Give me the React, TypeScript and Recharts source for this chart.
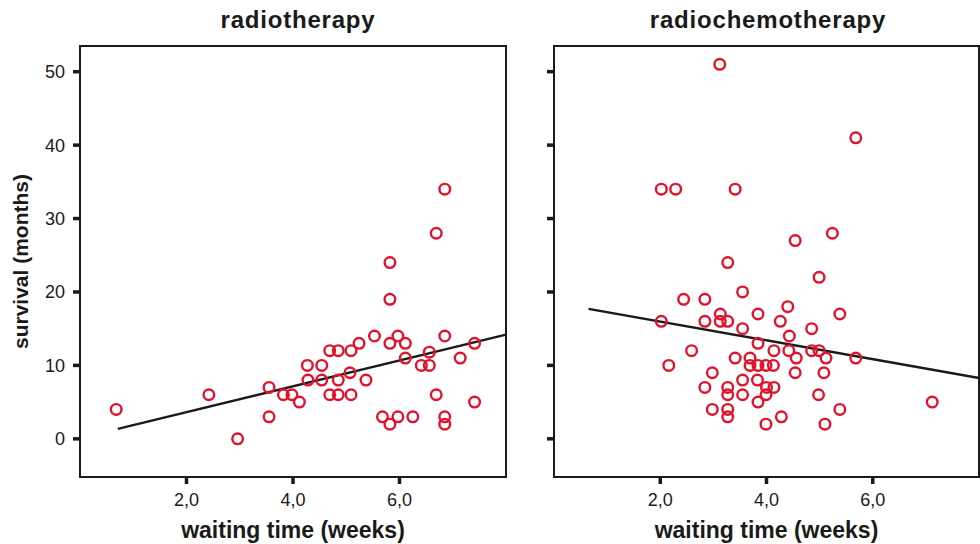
import React from "react";
import {
  ScatterChart,
  Scatter,
  XAxis,
  YAxis,
  ReferenceArea,
  ReferenceLine,
  Label,
} from "recharts";

// radiotherapy: waiting time (weeks) vs survival (months)
const radioX = [
  0.68, 2.42, 2.96, 3.55, 3.55, 3.82, 3.98, 4.12, 4.27, 4.28, 4.54, 4.54, 4.69,
  4.85, 4.69, 4.85, 4.85, 5.09, 5.07, 5.09, 5.24, 5.37, 5.53, 5.82, 5.82, 5.82,
  5.97, 6.11, 6.11, 5.68, 5.82, 5.97, 6.25, 6.41, 6.56, 6.56, 6.69, 6.69, 6.85,
  6.85, 6.85, 6.85, 7.14, 7.41, 7.41,
];
const radioY = [
  4, 6, 0, 7, 3, 6, 6, 5, 10, 8, 10, 8, 12, 12, 6, 6, 8, 12, 9, 6, 13, 8, 14,
  24, 19, 13, 14, 13, 11, 3, 2, 3, 3, 10, 10, 11.8, 6, 28, 34, 14, 3, 2, 11, 13,
  5,
];

// radiochemotherapy
const chemoX = [
  3.12, 5.68, 2.02, 2.29, 3.41, 5.24, 4.54, 3.27, 4.99, 3.55, 2.44, 2.84, 4.4,
  5.38, 3.84, 3.13, 3.13, 3.27, 2.02, 2.84, 4.26, 3.55, 4.85, 4.43, 3.84, 2.59,
  4.14, 4.42, 4.85, 4.99, 3.41, 3.69, 4.56, 5.12, 5.68, 2.16, 3.69, 3.84, 3.99,
  4.13, 2.98, 4.54, 5.08, 3.55, 3.83, 2.84, 3.27, 4.0, 4.14, 3.27, 3.55, 3.99,
  4.98, 3.84, 7.12, 2.98, 3.27, 5.38, 3.27, 4.28, 3.99, 5.1,
];
const chemoY = [
  51, 41, 34, 34, 34, 28, 27, 24, 22, 20, 19, 19, 18, 17, 17, 17, 16, 16, 16, 16,
  16, 15, 15, 14, 13, 12, 12, 12, 12, 12, 11, 11, 11, 11, 11, 10, 10, 10, 10, 10,
  9, 9, 9, 8, 8, 7, 7, 7, 7, 6, 6, 6, 6, 5, 5, 4, 4, 4, 3, 3, 2, 2,
];

// fitted lines (end points)
const radioFit = [
  { x: 0.71, y: 1.35 },
  { x: 8, y: 14.2 },
];
const chemoFit = [
  { x: 0.65, y: 17.7 },
  { x: 8, y: 8.28 },
];

const xTicks = [2, 4, 6];
const yTicks = [0, 10, 20, 30, 40, 50];
const xDomain = [0, 8];
const yDomain = [-5.2, 53.5];

const radioData = radioX.map((x, i) => ({ x, y: radioY[i] }));
const chemoData = chemoX.map((x, i) => ({ x, y: chemoY[i] }));

const FONT = "'Liberation Sans', Arial, Helvetica, sans-serif";
const INK = "#1a1a1a";
const RED = "#e2122c";

const fmtX = (v: number) => v.toFixed(1).replace(".", ",");

function Ring(props: any) {
  const { cx, cy } = props;
  if (cx == null || cy == null) return null;
  return <circle cx={cx} cy={cy} r={5.3} fill="none" stroke={RED} strokeWidth={2.4} />;
}

const tickStyle = { fontSize: 18, fill: INK, fontFamily: FONT };
const tickLine = { stroke: INK, strokeWidth: 3.5 };

function Panel({
  data,
  fit,
  width,
  yAxisWidth,
  marginRight,
  showYLabels,
}: {
  data: { x: number; y: number }[];
  fit: { x: number; y: number }[];
  width: number;
  yAxisWidth: number;
  marginRight: number;
  showYLabels: boolean;
}) {
  return (
    <ScatterChart
      width={width}
      height={544}
      margin={{ top: 46, right: marginRight, bottom: 0, left: 0 }}
    >
      <XAxis
        type="number"
        dataKey="x"
        domain={xDomain}
        ticks={xTicks}
        tickFormatter={fmtX}
        allowDataOverflow
        axisLine={false}
        tickLine={tickLine}
        tickSize={7}
        tickMargin={9}
        tick={tickStyle}
        height={67}
      >
        <Label
          value="waiting time (weeks)"
          position="insideBottom"
          offset={6}
          style={{ fontSize: 23, fontWeight: 700, fill: INK, fontFamily: FONT }}
        />
      </XAxis>
      <YAxis
        type="number"
        dataKey="y"
        domain={yDomain}
        ticks={yTicks}
        allowDataOverflow
        axisLine={false}
        tickLine={tickLine}
        tickSize={7}
        tickMargin={8}
        tick={tickStyle}
        tickFormatter={showYLabels ? (v: number) => String(v) : () => ""}
        width={yAxisWidth}
      >
        {showYLabels && (
          <Label
            value="survival (months)"
            angle={-90}
            position="insideLeft"
            offset={21}
            style={{
              fontSize: 21,
              fontWeight: 700,
              fill: INK,
              fontFamily: FONT,
              textAnchor: "middle",
            }}
          />
        )}
      </YAxis>
      <ReferenceArea
        x1={xDomain[0]}
        x2={xDomain[1]}
        y1={yDomain[0]}
        y2={yDomain[1]}
        fill="none"
        stroke={INK}
        strokeWidth={2}
        fillOpacity={0}
      />
      <ReferenceLine segment={fit} stroke={INK} strokeWidth={2.4} />
      <Scatter data={data} shape={<Ring />} isAnimationActive={false} />
    </ScatterChart>
  );
}

const titleStyle: React.CSSProperties = {
  position: "absolute",
  top: 8,
  width: 300,
  textAlign: "center",
  fontFamily: FONT,
  fontWeight: 700,
  fontSize: 24,
  lineHeight: "24px",
  letterSpacing: 0.8,
  color: INK,
};

export default function App() {
  return (
    <div
      style={{
        position: "absolute",
        left: 0,
        top: 0,
        width: 980,
        height: 544,
        background: "#fff",
        overflow: "hidden",
      }}
    >
      <div style={{ ...titleStyle, left: 148 }}>radiotherapy</div>
      <div style={{ ...titleStyle, left: 618 }}>radiochemotherapy</div>
      <div style={{ position: "absolute", left: 0, top: 0 }}>
        <Panel
          data={radioData}
          fit={radioFit}
          width={520}
          yAxisWidth={80}
          marginRight={14}
          showYLabels
        />
      </div>
      <div style={{ position: "absolute", left: 520, top: 0 }}>
        <Panel
          data={chemoData}
          fit={chemoFit}
          width={460}
          yAxisWidth={34}
          marginRight={1}
          showYLabels={false}
        />
      </div>
    </div>
  );
}
